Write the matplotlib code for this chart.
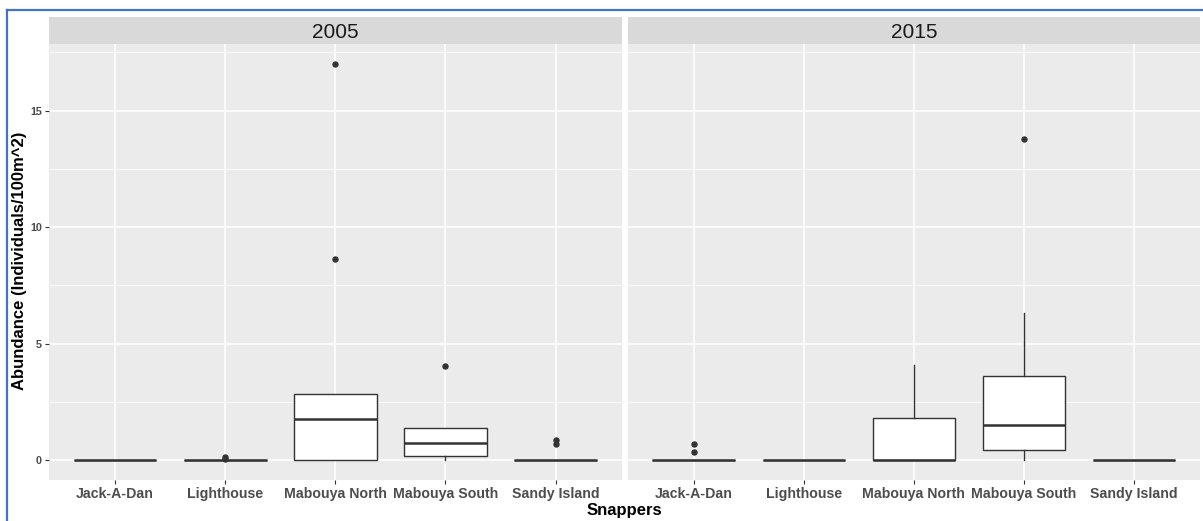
import matplotlib.pyplot as plt
from matplotlib.lines import Line2D

plt.rcParams['font.family'] = ['Liberation Sans', 'DejaVu Sans']

# sites along the x axis, one facet per survey year
sites = ['Jack-A-Dan', 'Lighthouse', 'Mabouya North', 'Mabouya South', 'Sandy Island']
years = ['2005', '2015']

# box statistics (individuals / 100 m^2)
q1_2005 = [0, 0, 0, 0.16, 0]
med_2005 = [0, 0, 1.75, 0.72, 0]
q3_2005 = [0, 0, 2.84, 1.40, 0]
lo_2005 = [0, 0, 0, 0, 0]
hi_2005 = [0, 0, 2.84, 1.40, 0]
out_2005 = [[], [0.05, 0.12], [8.65, 17.0], [4.05], [0.70, 0.88]]

q1_2015 = [0, 0, 0, 0.44, 0]
med_2015 = [0, 0, 0, 1.50, 0]
q3_2015 = [0, 0, 1.83, 3.61, 0]
lo_2015 = [0, 0, 0, 0, 0]
hi_2015 = [0, 0, 4.10, 6.30, 0]
out_2015 = [[0.34, 0.68], [], [], [13.8], []]

y_ticks = [0, 5, 10, 15]


def make_stats(q1, med, q3, lo, hi, out):
    stats = []
    for i in range(len(sites)):
        stats.append({'q1': q1[i], 'med': med[i], 'q3': q3[i],
                      'whislo': lo[i], 'whishi': hi[i], 'fliers': out[i]})
    return stats


panels = {
    '2005': make_stats(q1_2005, med_2005, q3_2005, lo_2005, hi_2005, out_2005),
    '2015': make_stats(q1_2015, med_2015, q3_2015, lo_2015, hi_2015, out_2015),
}

W, H = 1203, 521
fig = plt.figure(figsize=(W / 100, H / 100), dpi=100)

# panel geometry in pixels: (left, right)
panel_x = [(49, 621.7), (627.7, 1200)]
top_strip, bot_strip, bot_panel = 16.7, 44.3, 480

dark = '#333333'
for k, year in enumerate(years):
    left, right = panel_x[k]
    ax = fig.add_axes([left / W, 1 - bot_panel / H, (right - left) / W, (bot_panel - bot_strip) / H])
    ax.set_facecolor('#EBEBEB')
    for s in ax.spines.values():
        s.set_visible(False)

    pos = list(range(1, len(sites) + 1))
    ax.bxp(panels[year], positions=pos, widths=0.75, patch_artist=True, showcaps=False,
           boxprops=dict(facecolor='white', edgecolor=dark, linewidth=1.0),
           medianprops=dict(color=dark, linewidth=1.8, solid_capstyle='butt'),
           whiskerprops=dict(color=dark, linewidth=1.0),
           flierprops=dict(marker='o', markersize=3.6, markerfacecolor=dark,
                           markeredgecolor=dark, linestyle='none'),
           zorder=3)

    ax.set_xlim(0.4, 5.6)
    ax.set_ylim(-0.85, 17.85)
    ax.set_xticks(pos)
    ax.set_xticklabels(sites, fontsize=10.2, fontweight='bold', color='#4D4D4D')
    ax.set_yticks(y_ticks)
    ax.set_yticks([2.5, 7.5, 12.5, 17.5], minor=True)
    ax.set_xticks([], minor=True)
    ax.grid(True, which='major', color='white', linewidth=1.1, zorder=0)
    ax.grid(True, which='minor', axis='y', color='white', linewidth=0.55, zorder=0)
    ax.set_axisbelow(True)
    ax.tick_params(axis='both', which='major', length=3, width=0.8, color=dark, pad=2)
    ax.tick_params(axis='y', which='minor', length=0)
    if k == 0:
        ax.set_yticklabels([str(v) for v in y_ticks], fontsize=7.8,
                           fontweight='bold', color='#4D4D4D')
    else:
        ax.tick_params(axis='y', which='both', length=0, labelleft=False)

    # facet strip
    sax = fig.add_axes([left / W, 1 - bot_strip / H, (right - left) / W, (bot_strip - top_strip) / H])
    sax.set_facecolor('#D9D9D9')
    sax.set_xticks([])
    sax.set_yticks([])
    for s in sax.spines.values():
        s.set_visible(False)
    sax.text(0.5, 0.44, year, ha='center', va='center', fontsize=15,
             color='#1A1A1A', transform=sax.transAxes)

fig.text(20 / W, 1 - 261 / H, 'Abundance (Individuals/100m^2)', rotation=90,
         ha='center', va='center', fontsize=12, fontweight='bold')
fig.text(624 / W, 1 - 510 / H, 'Snappers', ha='center', va='center',
         fontsize=12, fontweight='bold')

# blue frame around the screenshot
fig.add_artist(Line2D([6.5 / W, 6.5 / W], [0, 1 - 10 / H], transform=fig.transFigure,
                      color='#4472C4', linewidth=1.6))
fig.add_artist(Line2D([6.5 / W, 1], [1 - 10 / H, 1 - 10 / H], transform=fig.transFigure,
                      color='#4472C4', linewidth=1.6))

fig.savefig('out.png', dpi=100)
